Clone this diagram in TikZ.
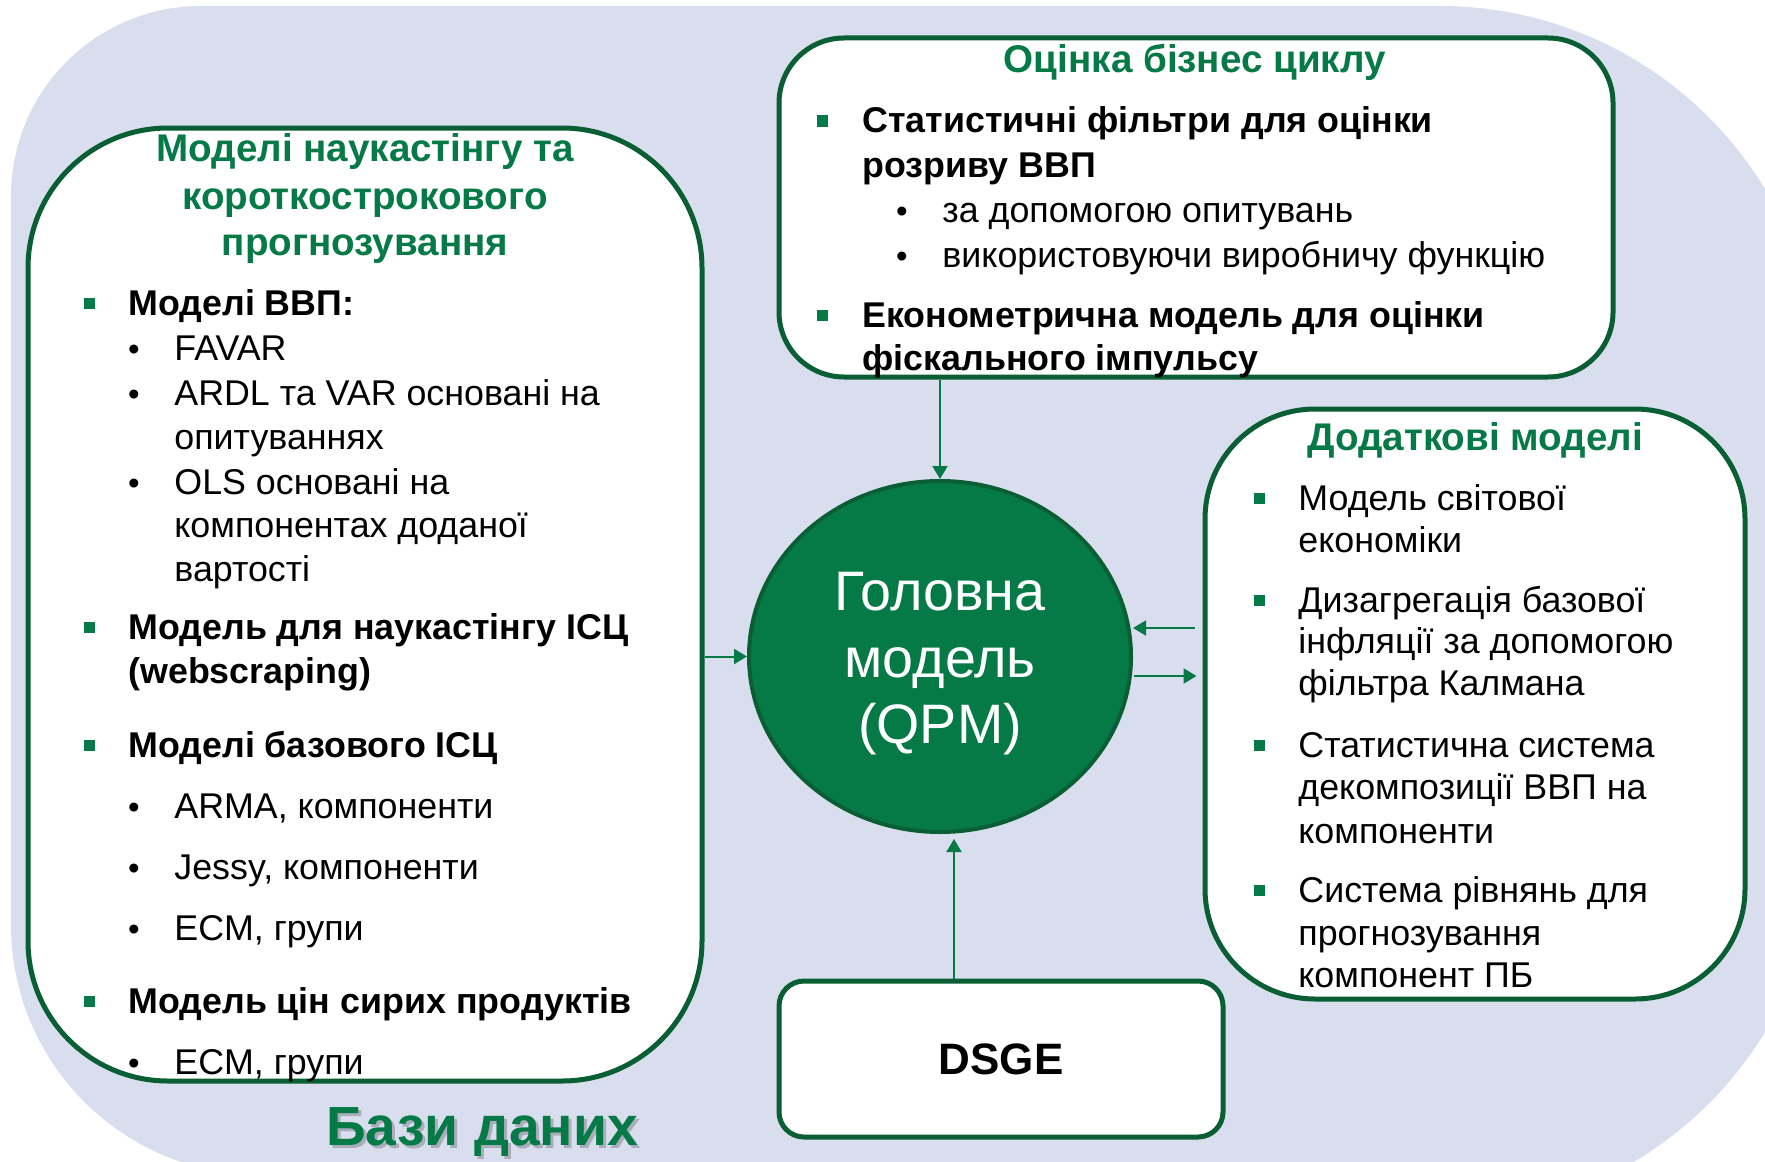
\documentclass[tikz,border=0pt]{standalone}
\usepackage{fontspec}
\setmainfont{Liberation Sans}
\usetikzlibrary{arrows.meta,shapes.geometric}
\definecolor{bgc}{RGB}{217,222,238}
\definecolor{dkg}{RGB}{10,94,52}
\definecolor{grn}{RGB}{6,122,70}
\tikzset{
  box/.style={draw=dkg, line width=2.5pt, fill=white, inner sep=0},
  hd/.style={text=grn, font=\fontsize{19.3}{22}\selectfont\bfseries, anchor=base, inner sep=0},
  bt/.style={font=\fontsize{17.9}{20}\selectfont\bfseries, anchor=base west, inner sep=0},
  rt/.style={font=\fontsize{17.9}{20}\selectfont, anchor=base west, inner sep=0},
  sqb/.style={fill=grn, minimum size=5.5pt, inner sep=0, draw=none},
  dotb/.style={font=\fontsize{16.5}{19}\selectfont, anchor=base, inner sep=0},
  ct/.style={text=white, font=\fontsize{27.8}{30}\selectfont, anchor=base, inner sep=0},
  arr/.style={draw=grn, line width=1pt, -{Triangle[length=6.5pt,width=7.5pt]}},
}
\begin{document}
\begin{tikzpicture}[x=0.5pt,y=-0.5pt]
\useasboundingbox (0,0) rectangle (1765,1161);
\clip (0,0) rectangle (1765,1161);
% background
\fill[bgc] (11,196) arc[start angle=180,end angle=270,radius=190]
  -- (1440,6) arc[start angle=270,end angle=360,radius=380]
  -- (1820,835) arc[start angle=0,end angle=90,radius=380]
  -- (261,1175) arc[start angle=90,end angle=180,radius=250] -- cycle;
% boxes
\node[box, rounded corners=70pt, minimum width=337pt, minimum height=476.5pt] (left) at (365,604.5) {};
\node[box, rounded corners=32.5pt, minimum width=417pt, minimum height=169.5pt] (top) at (1196,207.5) {};
\node[box, rounded corners=55pt, minimum width=270pt, minimum height=295pt] (right) at (1475,704) {};
\node[box, rounded corners=12.5pt, minimum width=222pt, minimum height=78pt, font=\fontsize{22}{24}\selectfont\bfseries] (dsge) at (1001,1059) {DSGE};
\node[ellipse, fill=grn, draw=dkg, line width=2pt, minimum width=191pt, minimum height=175.5pt, inner sep=0] (qpm) at (940,656.5) {};
\node[ct] (c1) at (940,610) {Головна};
\node[ct] (c2) at (940,677) {модель};
\node[ct] (c3) at (940,743) {(QPM)};
% connectors
\coordinate (rin) at (1195,628);
\coordinate (rout) at (1134,676);
\coordinate (dsx) at (954,0);
\draw[arr] (left.east |- qpm.west) -- (qpm.west);
\draw[arr] (top.south -| qpm.north) -- (qpm.north);
\draw[arr] (rin) -- (rin -| qpm.east);
\draw[arr, shorten >=3pt] (rout) -- (rout -| right.west);
\draw[arr, shorten >=2.5pt] (dsge.north -| dsx) -- (dsx |- qpm.south);
% left box text
\node[hd] (lh1) at (365,162) {Моделі наукастінгу та};
\node[hd] (lh2) at (365,209) {короткострокового};
\node[hd] (lh3) at (365,255) {прогнозування};
\node[sqb] (ls1) at (89,303) {};
\node[bt] (lt1) at (128,315) {Моделі ВВП:};
\node[dotb] (ld1) at (134,360) {•};
\node[rt] (lt2) at (174,360) {FAVAR};
\node[dotb] (ld2) at (134,405) {•};
\node[rt] (lt3) at (174,405) {ARDL та VAR основані на};
\node[rt] (lt4) at (174,449) {опитуваннях};
\node[dotb] (ld3) at (134,494) {•};
\node[rt] (lt5) at (174,494) {OLS основані на};
\node[rt] (lt6) at (174,537) {компонентах доданої};
\node[rt] (lt7) at (174,581) {вартості};
\node[sqb] (ls2) at (89,627) {};
\node[bt] (lt8) at (128,639) {Модель для наукастінгу ІСЦ};
\node[bt] (lt9) at (128,683) {(webscraping)};
\node[sqb] (ls3) at (89,745) {};
\node[bt] (lt10) at (128,757) {Моделі базового ІСЦ};
\node[dotb] (ld4) at (134,818) {•};
\node[rt] (lt11) at (174,818) {ARMA, компоненти};
\node[dotb] (ld5) at (134,879) {•};
\node[rt] (lt12) at (174,879) {Jessy, компоненти};
\node[dotb] (ld6) at (134,940) {•};
\node[rt] (lt13) at (174,940) {ECM, групи};
\node[sqb] (ls4) at (89,1001) {};
\node[bt] (lt14) at (128,1013) {Модель цін сирих продуктів};
\node[dotb] (ld7) at (134,1074) {•};
\node[rt] (lt15) at (174,1074) {ECM, групи};
% top box text
\node[hd] (th) at (1195,73) {Оцінка бізнес циклу};
\node[sqb] (ts1) at (822,121) {};
\node[bt] (tt1) at (862,133) {Статистичні фільтри для оцінки};
\node[bt] (tt2) at (862,177) {розриву ВВП};
\node[dotb] (td1) at (902,222) {•};
\node[rt] (tt3) at (942,222) {за допомогою опитувань};
\node[dotb] (td2) at (902,267) {•};
\node[rt] (tt4) at (942,267) {використовуючи виробничу функцію};
\node[sqb] (ts2) at (822,315) {};
\node[bt] (tt5) at (862,327) {Економетрична модель для оцінки};
\node[bt] (tt6) at (862,370) {фіскального імпульсу};
% right box text
\node[hd] (rh) at (1475,450) {Додаткові моделі};
\node[sqb] (rs1) at (1259,498) {};
\node[rt] (rt1) at (1298,510) {Модель світової};
\node[rt] (rt2) at (1298,552) {економіки};
\node[sqb] (rs2) at (1259,600) {};
\node[rt] (rt3) at (1298,612) {Дизагрегація базової};
\node[rt] (rt4) at (1298,653) {інфляції за допомогою};
\node[rt] (rt5) at (1298,695) {фільтра Калмана};
\node[sqb] (rs3) at (1259,745) {};
\node[rt] (rt6) at (1298,757) {Статистична система};
\node[rt] (rt7) at (1298,799) {декомпозиції ВВП на};
\node[rt] (rt8) at (1298,843) {компоненти};
\node[sqb] (rs4) at (1259,890) {};
\node[rt] (rt9) at (1298,902) {Система рівнянь для};
\node[rt] (rt10) at (1298,945) {прогнозування};
\node[rt] (rt11) at (1298,987) {компонент ПБ};
% databases label
\node[anchor=base, inner sep=0, text=black, opacity=0.22, font=\fontsize{27.6}{30}\selectfont\bfseries] (dbsh) at (485,1148) {Бази даних};
\node[anchor=base, inner sep=0, text=grn, font=\fontsize{27.6}{30}\selectfont\bfseries] (db) at (482,1145) {Бази даних};
\end{tikzpicture}
\end{document}
